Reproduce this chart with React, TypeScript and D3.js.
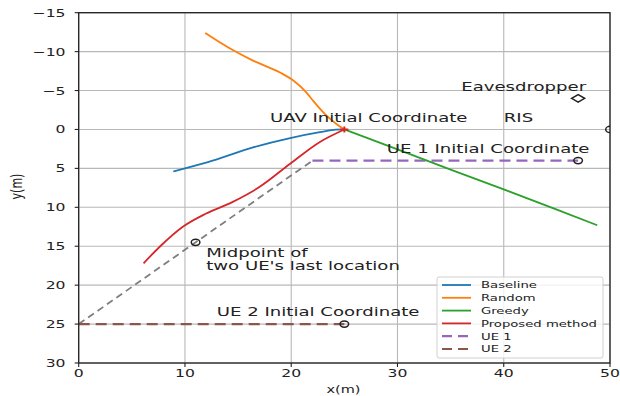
import React from "react";
import * as d3 from "d3";

const W = 620;
const H = 396;
const SX = 1.42;

const xTicks = [0, 10, 20, 30, 40, 50];
const yTicks = [-15, -10, -5, 0, 5, 10, 15, 20, 25, 30];

const baseline: [number, number][] = [
  [8.9, 5.4], [10, 5.0], [12.6, 4.0], [16.4, 2.3], [19.9, 1.1], [22.7, 0.35], [24.2, 0.02], [25, 0],
];
const random: [number, number][] = [
  [11.9, -12.4], [14.5, -10.2], [16.4, -8.85], [18.9, -7.35], [20.2, -6.3], [21.4, -4.8],
  [22.05, -3.7], [23.3, -1.8], [24.25, -0.7], [25, 0],
];
const greedy: [number, number][] = [
  [25, 0], [30, 2.55], [35, 5.15], [40, 7.7], [45, 10.3], [48.8, 12.3],
];
const proposed: [number, number][] = [
  [6.1, 17.2], [7.6, 15.1], [9.8, 12.5], [12, 10.8], [14.5, 9.3], [17, 7.4], [19.9, 4.4], [22.7, 1.6], [25, 0],
];
const midpointPath: [number, number][] = [[0, 25], [22, 4]];
const ue1: [number, number][] = [[22, 4], [47, 4]];
const ue2: [number, number][] = [[0, 25], [25, 25]];

const circleMarkers: [number, number][] = [[47, 4], [25, 25], [11, 14.5], [50, 0]];
const eavesdropper: [number, number] = [47, -4];
const uavStart: [number, number] = [25, 0];

const annotations: { x: number; y: number; lines: string[] }[] = [
  { x: 18, y: -1, lines: ["UAV Initial Coordinate"] },
  { x: 36, y: -5, lines: ["Eavesdropper"] },
  { x: 40, y: -1, lines: ["RIS"] },
  { x: 29, y: 3, lines: ["UE 1 Initial Coordinate"] },
  { x: 12, y: 18, lines: ["Midpoint of", "two UE's last location"] },
  { x: 13, y: 24, lines: ["UE 2 Initial Coordinate"] },
];

const legendItems = [
  { label: "Baseline", color: "#1f77b4", dash: "" },
  { label: "Random", color: "#ff7f0e", dash: "" },
  { label: "Greedy", color: "#2ca02c", dash: "" },
  { label: "Proposed method", color: "#d62728", dash: "" },
  { label: "UE 1", color: "#9467bd", dash: "10,6" },
  { label: "UE 2", color: "#8c564b", dash: "10,6" },
];

const FONT = "DejaVu Sans, sans-serif";

export default function App() {
  const left = 78.7, right = 610, top = 12.7, bottom = 363;
  const x = d3.scaleLinear().domain([0, 50]).range([left, right]);
  const y = d3.scaleLinear().domain([-15, 30]).range([top, bottom]);
  const line = d3.line<[number, number]>().x((d) => x(d[0])).y((d) => y(d[1])).curve(d3.curveMonotoneX);
  const straight = d3.line<[number, number]>().x((d) => x(d[0])).y((d) => y(d[1]));

  const lx0 = 437, ly0 = 277, lw = 166, lh = 81;
  const rowY = (i: number) => 285 + i * 12.8;

  return (
    <svg width={W} height={H} style={{ position: "absolute", left: 0, top: 0, background: "#fff" }}>
      <defs>
        <clipPath id="plotclip">
          <rect x={left} y={top} width={right - left} height={bottom - top} />
        </clipPath>
      </defs>
      <rect x={0} y={0} width={W} height={H} fill="#fff" />
      {/* grid */}
      {xTicks.map((t) => (
        <line key={"gx" + t} x1={x(t)} x2={x(t)} y1={top} y2={bottom} stroke="#b8b8b8" strokeWidth={1.1} />
      ))}
      {yTicks.map((t) => (
        <line key={"gy" + t} x1={left} x2={right} y1={y(t)} y2={y(t)} stroke="#b8b8b8" strokeWidth={1.1} />
      ))}
      <g clipPath="url(#plotclip)">
        <path d={straight(midpointPath) || ""} fill="none" stroke="#7f7f7f" strokeWidth={1.8} strokeDasharray="7,4.5" />
        <path d={straight(ue1) || ""} fill="none" stroke="#9467bd" strokeWidth={2.2} strokeDasharray="11,6" />
        <path d={straight(ue2) || ""} fill="none" stroke="#8c564b" strokeWidth={2.2} strokeDasharray="11,6" />
        <path d={line(baseline) || ""} fill="none" stroke="#1f77b4" strokeWidth={1.8} />
        <path d={line(random) || ""} fill="none" stroke="#ff7f0e" strokeWidth={1.8} />
        <path d={straight(greedy) || ""} fill="none" stroke="#2ca02c" strokeWidth={1.8} />
        <path d={line(proposed) || ""} fill="none" stroke="#d62728" strokeWidth={1.8} />
        <path
          d={`M${x(uavStart[0]) - 4},${y(uavStart[1])}H${x(uavStart[0]) + 4}M${x(uavStart[0])},${y(uavStart[1]) - 3}V${y(uavStart[1]) + 3}`}
          stroke="#d62728"
          strokeWidth={2}
        />
        {circleMarkers.map((m, i) => (
          <ellipse key={"c" + i} cx={x(m[0])} cy={y(m[1])} rx={4.3} ry={3.1} fill="none" stroke="#222" strokeWidth={1.5} />
        ))}
        <path
          d={`M${x(eavesdropper[0]) - 6.5},${y(eavesdropper[1])}L${x(eavesdropper[0])},${y(eavesdropper[1]) - 3.7}L${x(eavesdropper[0]) + 6.5},${y(eavesdropper[1])}L${x(eavesdropper[0])},${y(eavesdropper[1]) + 3.7}Z`}
          fill="none"
          stroke="#222"
          strokeWidth={1.5}
        />
      </g>
      {/* spines */}
      <rect x={left} y={top} width={right - left} height={bottom - top} fill="none" stroke="#222" strokeWidth={1.3} />
      {/* ticks */}
      {xTicks.map((t) => (
        <g key={"tx" + t}>
          <line x1={x(t)} x2={x(t)} y1={bottom} y2={bottom + 4} stroke="#222" strokeWidth={1.1} />
          <g transform={`translate(${x(t)},${376.5}) scale(${SX},1)`}>
            <text textAnchor="middle" fontFamily={FONT} fontSize={11} fill="#222">
              {t}
            </text>
          </g>
        </g>
      ))}
      {yTicks.map((t) => (
        <g key={"ty" + t}>
          <line x1={left - 4} x2={left} y1={y(t)} y2={y(t)} stroke="#222" strokeWidth={1.1} />
          <g transform={`translate(${65.5},${y(t) + 4}) scale(${SX},1)`}>
            <text textAnchor="end" fontFamily={FONT} fontSize={11} fill="#222">
              {t < 0 ? "\u2212" + Math.abs(t) : String(t)}
            </text>
          </g>
        </g>
      ))}
      {/* axis labels */}
      <g transform={`translate(${343.5},${393}) scale(1.38,1)`}>
        <text textAnchor="middle" fontFamily={FONT} fontSize={10.5} fill="#222">x(m)</text>
      </g>
      <g transform={`translate(${22},${186.5}) scale(${SX},1) rotate(-90)`}>
        <text textAnchor="middle" fontFamily={FONT} fontSize={11} fill="#222">y(m)</text>
      </g>
      {/* annotations */}
      {annotations.map((a, i) => (
        <g key={"a" + i} transform={`translate(${x(a.x)},${y(a.y)}) scale(1.46,1)`}>
          {a.lines.map((ln, j) => (
            <text key={j} x={0} y={-(a.lines.length - 1 - j) * 13} fontFamily={FONT} fontSize={12.4} fill="#222">
              {ln}
            </text>
          ))}
        </g>
      ))}
      {/* legend */}
      <rect x={lx0} y={ly0} width={lw} height={lh} rx={2} fill="#fff" fillOpacity={0.8} stroke="#d0d0d0" strokeWidth={1} />
      {legendItems.map((it, i) => (
        <g key={"l" + i}>
          <line x1={442} x2={471} y1={rowY(i)} y2={rowY(i)} stroke={it.color} strokeWidth={it.dash ? 2.2 : 1.8} strokeDasharray={it.dash || undefined} />
          <g transform={`translate(481,${rowY(i) + 3.4}) scale(${SX},1)`}>
            <text fontFamily={FONT} fontSize={9.3} fill="#222">{it.label}</text>
          </g>
        </g>
      ))}
    </svg>
  );
}
